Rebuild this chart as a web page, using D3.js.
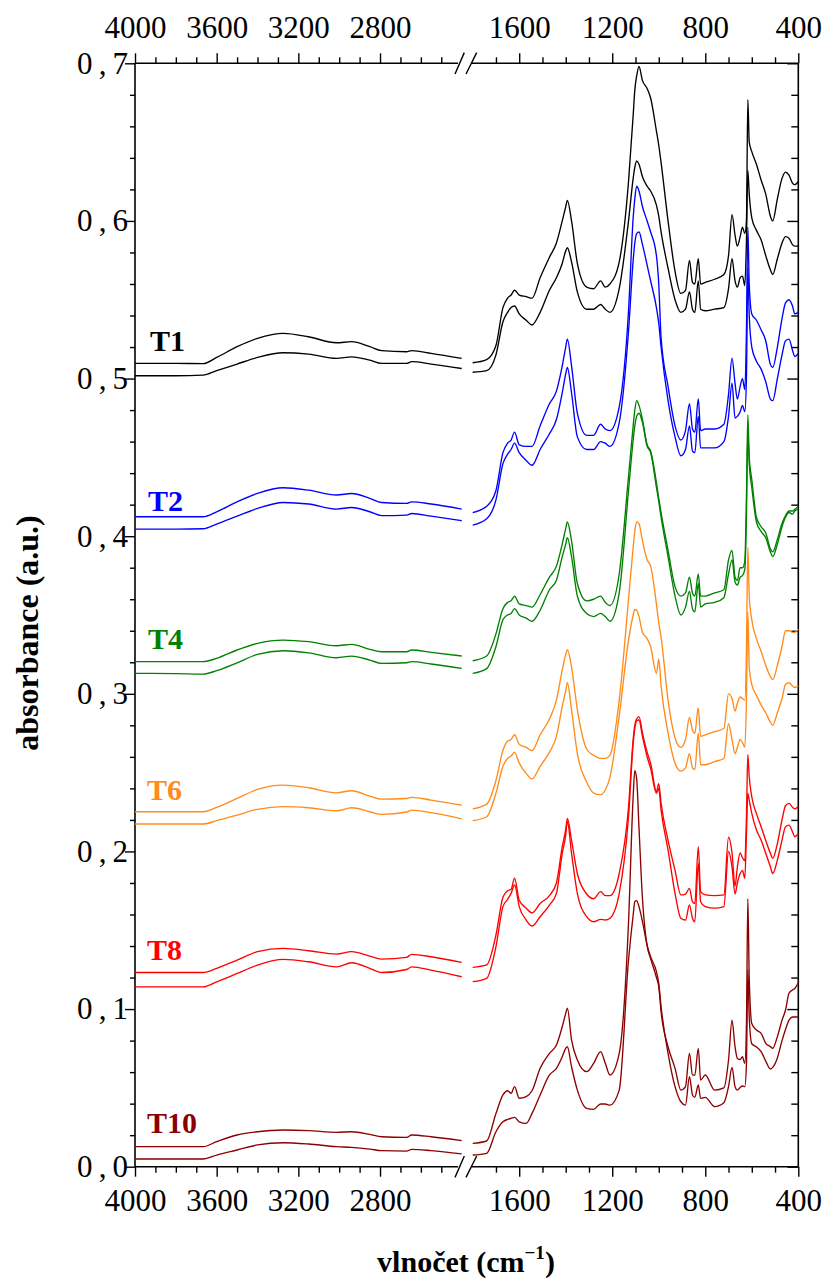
<!DOCTYPE html>
<html><head><meta charset="utf-8">
<script src="https://cdn.jsdelivr.net/npm/d3@7"></script>
<style>
body{margin:0;background:#fff;}
svg{display:block;font-family:"Liberation Serif","Times New Roman",serif;}
</style></head>
<body>
<svg id="chart" width="829" height="1283"></svg>
<script>
// ---------------- data ----------------
const wnLeft = [4000,3800,3667,3600,3500,3400,3274,3150,3013,2939,2850,2792,2670,2645,2550,2400];
const wnRight = [1800,1740,1700,1670,1650,1635,1620,1600,1570,1545,
  1510,1470,1440,1415,1400,1393,1375,1350,1310,1280,
  1250,1230,1210,1170,1130,1110,1103,1095,1085,1070,
  1050,1035,1010,1000,990,960,930,905,885,868,
  855,845,830,820,800,760,720,700,685,672,
  662,650,640,630,623,617,611,600,580,560,
  540,520,510,490,470,455,440,425,415,400];

const samples = ["T1","T2","T4","T6","T8","T10"];
const colors = ["#000000","#0000ff","#008000","#ff8c1a","#ff0000","#8b0000"];

const T1aL=[0.5096,0.5096,0.5095,0.5134,0.5202,0.5255,0.5287,0.5265,0.5227,0.5234,0.5202,0.5177,0.5170,0.5177,0.5160,0.5128];
const T1bL=[0.5018,0.5018,0.5022,0.5050,0.5092,0.5134,0.5164,0.5155,0.5128,0.5138,0.5117,0.5096,0.5096,0.5107,0.5092,0.5064];
const T2aL=[0.4123,0.4123,0.4123,0.4155,0.4218,0.4271,0.4307,0.4292,0.4261,0.4271,0.4240,0.4214,0.4208,0.4218,0.4204,0.4172];
const T2bL=[0.4045,0.4045,0.4047,0.4077,0.4127,0.4176,0.4214,0.4204,0.4172,0.4182,0.4155,0.4130,0.4134,0.4144,0.4127,0.4098];
const T4aL=[0.3204,0.3204,0.3204,0.3225,0.3278,0.3320,0.3341,0.3331,0.3305,0.3314,0.3282,0.3267,0.3267,0.3278,0.3263,0.3240];
const T4bL=[0.3130,0.3128,0.3125,0.3147,0.3197,0.3250,0.3273,0.3260,0.3229,0.3239,0.3214,0.3193,0.3197,0.3204,0.3189,0.3161];
const T6aL=[0.2252,0.2252,0.2252,0.2279,0.2336,0.2394,0.2421,0.2404,0.2372,0.2385,0.2351,0.2332,0.2336,0.2343,0.2326,0.2294];
const T6bL=[0.2174,0.2174,0.2174,0.2195,0.2231,0.2267,0.2284,0.2277,0.2258,0.2277,0.2252,0.2235,0.2250,0.2262,0.2246,0.2207];
const T8aL=[0.1232,0.1232,0.1232,0.1258,0.1311,0.1364,0.1385,0.1370,0.1349,0.1364,0.1336,0.1317,0.1328,0.1347,0.1332,0.1296];
const T8bL=[0.1141,0.1141,0.1141,0.1173,0.1226,0.1279,0.1315,0.1300,0.1268,0.1294,0.1258,0.1232,0.1251,0.1268,0.1247,0.1205];
const T10aL=[0.0127,0.0127,0.0127,0.0159,0.0201,0.0222,0.0233,0.0229,0.0218,0.0222,0.0205,0.0190,0.0186,0.0201,0.0190,0.0165];
const T10bL=[0.0049,0.0049,0.0049,0.0074,0.0106,0.0138,0.0152,0.0144,0.0127,0.0123,0.0112,0.0102,0.0099,0.0110,0.0102,0.0081];

const T1aR=[0.510,0.512,0.521,0.545,0.551,0.553,0.556,0.553,0.552,0.551,
  0.564,0.577,0.586,0.600,0.609,0.613,0.600,0.573,0.558,0.557,
  0.562,0.558,0.560,0.574,0.625,0.667,0.683,0.692,0.698,0.689,
  0.684,0.678,0.657,0.648,0.637,0.600,0.568,0.554,0.556,0.575,
  0.561,0.560,0.576,0.560,0.561,0.563,0.566,0.578,0.604,0.591,
  0.584,0.590,0.596,0.592,0.600,0.677,0.650,0.644,0.636,0.626,
  0.617,0.603,0.600,0.614,0.627,0.631,0.629,0.624,0.623,0.625];
const T1bR=[0.504,0.505,0.515,0.536,0.542,0.545,0.546,0.541,0.537,0.534,
  0.542,0.556,0.564,0.573,0.581,0.583,0.574,0.555,0.544,0.544,
  0.547,0.544,0.542,0.557,0.600,0.627,0.634,0.638,0.636,0.628,
  0.622,0.619,0.610,0.603,0.593,0.570,0.550,0.542,0.544,0.555,
  0.544,0.542,0.562,0.544,0.543,0.544,0.545,0.557,0.576,0.562,
  0.558,0.564,0.565,0.559,0.587,0.632,0.617,0.602,0.594,0.588,
  0.578,0.569,0.566,0.576,0.586,0.590,0.589,0.585,0.584,0.584];
const T2aR=[0.415,0.419,0.429,0.453,0.459,0.461,0.466,0.458,0.457,0.457,
  0.470,0.484,0.492,0.508,0.520,0.525,0.508,0.478,0.464,0.464,
  0.471,0.468,0.467,0.482,0.543,0.602,0.614,0.622,0.619,0.609,
  0.600,0.593,0.578,0.560,0.526,0.495,0.470,0.461,0.467,0.484,
  0.468,0.466,0.487,0.467,0.468,0.468,0.471,0.490,0.513,0.497,
  0.487,0.495,0.500,0.493,0.530,0.596,0.560,0.541,0.537,0.531,
  0.524,0.509,0.507,0.520,0.538,0.548,0.550,0.546,0.541,0.542];
const T2bR=[0.407,0.411,0.423,0.446,0.452,0.455,0.459,0.453,0.448,0.445,
  0.455,0.465,0.474,0.491,0.503,0.507,0.491,0.463,0.455,0.455,
  0.460,0.459,0.457,0.472,0.530,0.575,0.586,0.592,0.593,0.585,
  0.572,0.562,0.545,0.535,0.520,0.486,0.463,0.451,0.455,0.470,
  0.454,0.453,0.476,0.456,0.456,0.456,0.460,0.476,0.497,0.475,
  0.476,0.479,0.483,0.479,0.500,0.570,0.540,0.520,0.511,0.506,
  0.498,0.487,0.486,0.500,0.515,0.524,0.525,0.518,0.514,0.516];
const T4aR=[0.321,0.324,0.338,0.354,0.358,0.359,0.362,0.357,0.356,0.355,
  0.363,0.374,0.381,0.395,0.405,0.409,0.397,0.370,0.359,0.360,
  0.362,0.358,0.356,0.376,0.438,0.470,0.480,0.486,0.483,0.474,
  0.458,0.454,0.434,0.424,0.415,0.391,0.368,0.362,0.364,0.374,
  0.364,0.362,0.376,0.362,0.362,0.364,0.366,0.385,0.391,0.374,
  0.372,0.380,0.380,0.384,0.425,0.477,0.450,0.436,0.412,0.406,
  0.402,0.392,0.390,0.398,0.408,0.413,0.416,0.416,0.417,0.419];
const T4bR=[0.313,0.316,0.330,0.347,0.350,0.351,0.354,0.350,0.348,0.346,
  0.353,0.366,0.372,0.387,0.395,0.399,0.387,0.362,0.351,0.349,
  0.351,0.349,0.346,0.364,0.429,0.461,0.470,0.476,0.478,0.472,
  0.457,0.453,0.431,0.422,0.412,0.387,0.362,0.350,0.355,0.365,
  0.354,0.352,0.370,0.355,0.357,0.358,0.361,0.376,0.385,0.371,
  0.369,0.374,0.375,0.379,0.412,0.467,0.446,0.431,0.409,0.403,
  0.399,0.390,0.387,0.395,0.406,0.412,0.415,0.414,0.416,0.417];
const T6aR=[0.227,0.230,0.245,0.264,0.270,0.271,0.274,0.268,0.266,0.264,
  0.274,0.284,0.296,0.315,0.325,0.328,0.317,0.290,0.265,0.261,
  0.259,0.259,0.261,0.296,0.360,0.393,0.403,0.409,0.408,0.397,
  0.385,0.381,0.357,0.345,0.336,0.296,0.272,0.266,0.271,0.285,
  0.277,0.275,0.291,0.273,0.274,0.276,0.278,0.300,0.297,0.289,
  0.294,0.298,0.297,0.296,0.328,0.393,0.362,0.347,0.335,0.327,
  0.318,0.311,0.309,0.318,0.330,0.340,0.340,0.339,0.339,0.341];
const T6bR=[0.2195,0.222,0.237,0.254,0.259,0.2605,0.263,0.256,0.2495,0.246,
  0.254,0.263,0.273,0.292,0.302,0.307,0.290,0.262,0.244,0.237,
  0.236,0.239,0.247,0.286,0.334,0.350,0.3535,0.353,0.349,0.339,
  0.335,0.330,0.313,0.322,0.305,0.275,0.256,0.251,0.253,0.262,
  0.253,0.252,0.275,0.255,0.255,0.257,0.259,0.281,0.271,0.262,
  0.266,0.271,0.269,0.266,0.296,0.352,0.317,0.306,0.299,0.293,
  0.288,0.282,0.280,0.288,0.297,0.306,0.307,0.305,0.304,0.305];
const T8aR=[0.1265,0.128,0.147,0.171,0.175,0.176,0.183,0.169,0.164,0.161,
  0.167,0.172,0.180,0.203,0.214,0.221,0.207,0.186,0.173,0.170,
  0.1745,0.172,0.172,0.186,0.228,0.271,0.280,0.284,0.2855,0.275,
  0.263,0.256,0.238,0.243,0.2305,0.207,0.188,0.1724,0.173,0.1766,
  0.168,0.167,0.203,0.1745,0.1724,0.172,0.1724,0.209,0.199,0.178,
  0.190,0.199,0.196,0.194,0.222,0.2615,0.2474,0.2347,0.224,0.2157,
  0.207,0.1988,0.1956,0.205,0.220,0.229,0.2305,0.228,0.227,0.2285];
const T8bR=[0.1174,0.1195,0.1396,0.165,0.1696,0.1734,0.1787,0.165,0.1565,0.1527,
  0.1586,0.166,0.1734,0.1988,0.2104,0.219,0.1988,0.1734,0.1586,0.1554,
  0.1569,0.1565,0.1576,0.1734,0.222,0.2686,0.278,0.2829,0.2834,0.2728,
  0.2601,0.2527,0.2368,0.240,0.2263,0.2009,0.1734,0.1576,0.1565,0.166,
  0.1576,0.1554,0.1924,0.1681,0.165,0.164,0.165,0.200,0.190,0.173,
  0.180,0.186,0.188,0.183,0.211,0.237,0.2326,0.2241,0.2136,0.2072,
  0.1988,0.1903,0.186,0.1945,0.2072,0.2157,0.2167,0.2125,0.2093,0.2114];
const T10aR=[0.0148,0.0163,0.0338,0.0455,0.0482,0.0465,0.0508,0.0434,0.0444,0.0482,
  0.0624,0.0719,0.0772,0.0888,0.0973,0.1005,0.0804,0.0677,0.0603,0.0656,
  0.073,0.0656,0.0582,0.0719,0.155,0.235,0.2512,0.246,0.215,0.170,
  0.140,0.132,0.120,0.1142,0.0983,0.0761,0.0624,0.0486,0.0508,0.0719,
  0.0582,0.058,0.0751,0.055,0.0582,0.0486,0.050,0.0677,0.093,0.0761,
  0.0687,0.068,0.0698,0.0656,0.09,0.17,0.12,0.0909,0.0867,0.0846,
  0.0783,0.0762,0.0751,0.0825,0.093,0.0994,0.110,0.1121,0.1131,0.1167];
const T10bR=[0.0074,0.0085,0.0222,0.0285,0.0300,0.0307,0.0313,0.0285,0.0275,0.0338,
  0.0455,0.0582,0.0624,0.0698,0.0751,0.0761,0.0634,0.0486,0.037,0.0364,
  0.0398,0.0398,0.0391,0.0486,0.1311,0.1597,0.1681,0.1688,0.165,0.1555,
  0.1406,0.1332,0.1237,0.1163,0.1015,0.0719,0.0508,0.0412,0.0391,0.0571,
  0.0455,0.044,0.0518,0.0433,0.044,0.0381,0.0406,0.0508,0.063,0.0508,
  0.0486,0.0503,0.0512,0.0508,0.065,0.125,0.095,0.078,0.076,0.073,
  0.067,0.062,0.063,0.069,0.080,0.087,0.093,0.095,0.095,0.095];

const leftSeries  = [[T1aL,T1bL],[T2aL,T2bL],[T4aL,T4bL],[T6aL,T6bL],[T8aL,T8bL],[T10aL,T10bL]];
const rightSeries = [[T1aR,T1bR],[T2aR,T2bR],[T4aR,T4bR],[T6aR,T6bR],[T8aR,T8bR],[T10aR,T10bR]];

const yTicks = [0,0.1,0.2,0.3,0.4,0.5,0.6,0.7];
const xTicksLeft = [4000,3600,3200,2800];
const xTicksRight = [1600,1200,800,400];
const xTitle = "vlnočet (cm";
const yTitle = "absorbance (a.u.)";

// ---------------- layout ----------------
const FONT = '"Liberation Serif","Times New Roman",serif';
const svg = d3.select("#chart");
const X0 = 135, XL1 = 461.7, XR0 = 472.7, X1 = 798.3;
const Y0 = 1166.7, Y1 = 63.3;
const xL = d3.scaleLinear().domain([4000,2400]).range([X0, XL1]);
const xR = d3.scaleLinear().domain([1800,400]).range([XR0, X1]);
const y  = d3.scaleLinear().domain([0,0.7]).range([Y0, Y1]);
const fmt = d => d3.format(".1f")(d).replace(".", ",");

const minorY = d3.range(0, 0.7001, 0.02).filter(v => Math.abs(v*10 - Math.round(v*10)) > 1e-6);
const minorXL = d3.range(3900, 2450, -100).filter(v => !xTicksLeft.includes(v));
const minorXR = d3.range(1700, 399, -100).filter(v => !xTicksRight.includes(v));

const FS = 31;
function styleAxis(g){
  g.attr("font-family", FONT).attr("font-size", FS);
  g.select(".domain").remove();
  g.selectAll(".tick line").attr("stroke","#000").attr("stroke-width",1.4);
  g.selectAll(".tick text").attr("font-size",FS).attr("fill","#000").attr("font-family",FONT);
}

// left y axis
svg.append("g").attr("transform",`translate(${X0},0)`)
  .call(d3.axisLeft(y).tickValues(yTicks).tickSize(10).tickPadding(-3).tickFormat(fmt))
  .call(styleAxis)
  .call(g=>g.selectAll(".tick text").attr("textLength",51).attr("lengthAdjust","spacing"));
svg.append("g").attr("transform",`translate(${X0},0)`)
  .call(d3.axisLeft(y).tickValues(minorY).tickSize(5).tickFormat(""))
  .call(styleAxis);
// right y axis (ticks inward)
svg.append("g").attr("transform",`translate(${X1},0)`)
  .call(d3.axisLeft(y).tickValues(yTicks).tickSize(11).tickFormat(""))
  .call(styleAxis);
svg.append("g").attr("transform",`translate(${X1},0)`)
  .call(d3.axisLeft(y).tickValues(minorY).tickSize(7).tickFormat(""))
  .call(styleAxis);

// top & bottom x axes
[[xL,xTicksLeft,minorXL],[xR,xTicksRight,minorXR]].forEach(([sc,maj,min])=>{
  svg.append("g").attr("transform",`translate(0,${Y1})`)
    .call(d3.axisTop(sc).tickValues(maj).tickSize(10).tickPadding(15).tickFormat(d3.format("d")))
    .call(styleAxis);
  svg.append("g").attr("transform",`translate(0,${Y1})`)
    .call(d3.axisTop(sc).tickValues(min).tickSize(6).tickFormat(""))
    .call(styleAxis);
  svg.append("g").attr("transform",`translate(0,${Y0})`)
    .call(d3.axisBottom(sc).tickValues(maj).tickSize(10).tickPadding(12).tickFormat(d3.format("d")))
    .call(styleAxis);
  svg.append("g").attr("transform",`translate(0,${Y0})`)
    .call(d3.axisBottom(sc).tickValues(min).tickSize(6).tickFormat(""))
    .call(styleAxis);
});

// frame
const frame = svg.append("g").attr("stroke","#000").attr("stroke-width",1.6).attr("fill","none");
frame.append("line").attr("x1",X0).attr("x2",X0).attr("y1",Y1).attr("y2",Y0);
frame.append("line").attr("x1",X1).attr("x2",X1).attr("y1",Y1).attr("y2",Y0);
[Y1,Y0].forEach(yy=>{
  frame.append("line").attr("x1",X0).attr("x2",458).attr("y1",yy).attr("y2",yy);
  frame.append("line").attr("x1",472).attr("x2",X1).attr("y1",yy).attr("y2",yy);
  frame.append("line").attr("x1",455).attr("y1",yy+10.7).attr("x2",464.3).attr("y2",yy-10.7).attr("stroke-width",1.4);
  frame.append("line").attr("x1",466).attr("y1",yy+10.7).attr("x2",476.7).attr("y2",yy-10.7).attr("stroke-width",1.4);
});

// spectra
const lineL = d3.line().x((d,i)=>xL(wnLeft[i])).y(d=>y(d)).curve(d3.curveMonotoneX);
const lineR = d3.line().x((d,i)=>xR(wnRight[i])).y(d=>y(d)).curve(d3.curveMonotoneX);
const spec = svg.append("g").attr("fill","none").attr("stroke-width",1.35).attr("stroke-linejoin","round");
samples.forEach((s,k)=>{
  leftSeries[k].forEach(arr=>spec.append("path").attr("d",lineL(arr)).attr("stroke",colors[k]));
  rightSeries[k].forEach(arr=>spec.append("path").attr("d",lineR(arr)).attr("stroke",colors[k]));
});

// sample labels
const labelPos = [[150,350.7],[148,510.7],[148,649.3],[147,800],[147,960],[147,1133.3]];
samples.forEach((s,k)=>{
  svg.append("text").attr("x",labelPos[k][0]).attr("y",labelPos[k][1])
    .attr("font-family",FONT).attr("font-size",30).attr("font-weight","bold").attr("fill",colors[k]).text(s);
});

// axis titles
const xt = svg.append("text").attr("x",466).attr("y",1272).attr("text-anchor","middle")
  .attr("font-family",FONT).attr("font-size",30).attr("font-weight","bold").attr("fill","#000");
xt.append("tspan").text(xTitle);
xt.append("tspan").attr("font-size",19).attr("dy",-13).text("\u22121");
xt.append("tspan").attr("dy",13).text(")");

svg.append("text").attr("transform","translate(38,633) rotate(-90)").attr("text-anchor","middle")
  .attr("font-family",FONT).attr("font-size",32).attr("font-weight","bold").attr("fill","#000").text(yTitle);
</script>
</body></html>
